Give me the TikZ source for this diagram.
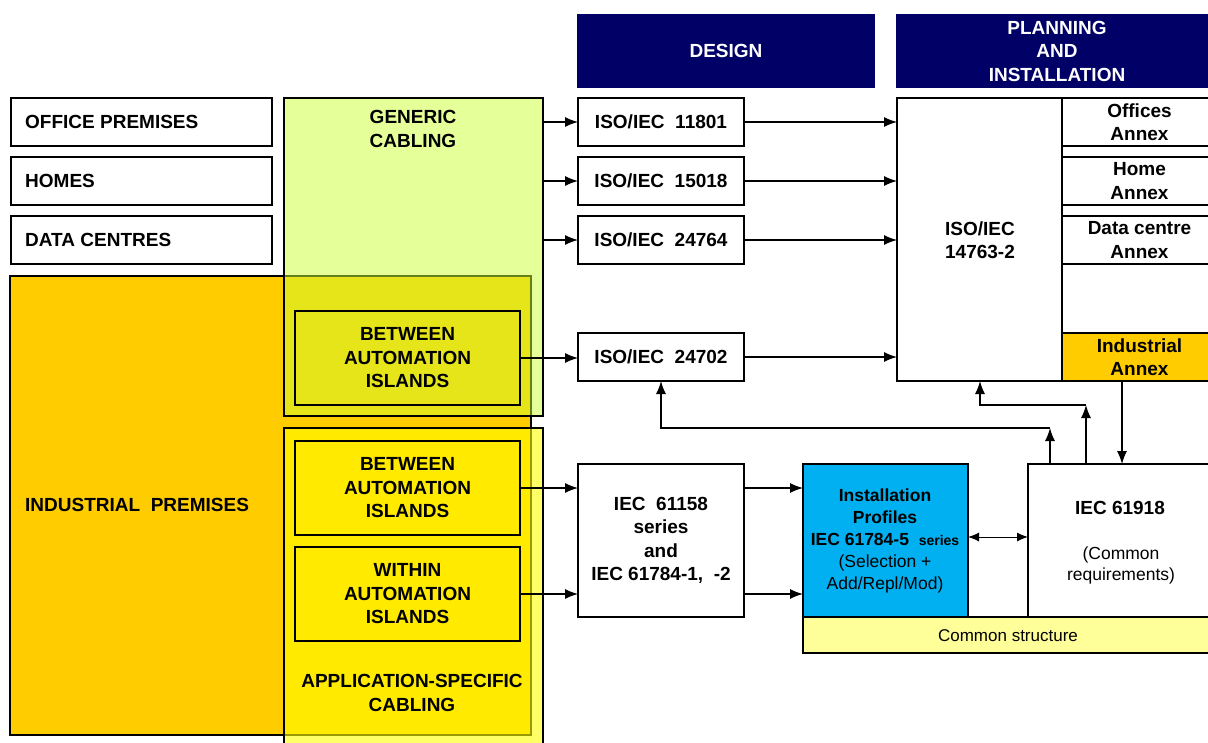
\documentclass[tikz,border=0pt]{standalone}
\usepackage{fontspec}
\setmainfont{Liberation Sans}
\usetikzlibrary{arrows.meta,calc}
\definecolor{navy}{HTML}{000066}
\definecolor{indorange}{HTML}{FFCC00}
\definecolor{gengreen}{HTML}{CCFF33}
\definecolor{appyellow}{HTML}{FFFF00}
\definecolor{cyanbox}{HTML}{00B0F0}
\definecolor{paleyellow}{HTML}{FFFF99}
\tikzset{
  box/.style={draw=black, line width=1.2pt, anchor=north west, inner sep=0pt, outer sep=0pt, align=center,
    font=\bfseries\fontsize{19}{23.5}\selectfont},
  lbl/.style={font=\bfseries\fontsize{19}{23.5}\selectfont, align=center, inner sep=0pt},
  reg/.style={font=\fontsize{17.5}{21}\selectfont, align=center, inner sep=0pt},
  arr/.style={-{Latex[length=13pt,width=10pt]}, line width=1.2pt},
  dblarr/.style={{Latex[length=11pt,width=9pt]}-{Latex[length=11pt,width=9pt]}, line width=1pt},
  header/.style={box, fill=navy, draw=navy, text=white, minimum height=72pt},
}
\begin{document}
\begin{tikzpicture}[x=1pt,y=-1pt]
\useasboundingbox (0,0) rectangle (1208,742);
% left premises
\node[box, fill=white, minimum width=261pt, minimum height=48pt] (office) at (11,98) {};
\node[lbl, anchor=west] (tOffice) at (25,122) {OFFICE PREMISES};
\node[box, fill=white, minimum width=261pt, minimum height=48pt] (homes) at (11,157) {};
\node[lbl, anchor=west] (tHomes) at (25,181) {HOMES};
\node[box, fill=white, minimum width=261pt, minimum height=48pt] (dc) at (11,216) {};
\node[lbl, anchor=west] (tDC) at (25,240) {DATA CENTRES};
\node[box, fill=indorange, minimum width=521pt, minimum height=459pt] (ind) at (10,276) {};
\node[lbl, anchor=west] (tInd) at (25,505) {INDUSTRIAL\ \ PREMISES};
% cabling overlays
\node[box, fill=gengreen, fill opacity=0.5, minimum width=259pt, minimum height=318pt] (gen) at (284,98) {};
\node[lbl] (tGen) at (413,129) {GENERIC\\CABLING};
\node[box, fill=appyellow, fill opacity=0.6, minimum width=259pt, minimum height=340pt] (app) at (284,428) {};
\node[lbl] (tApp) at (412,693) {APPLICATION-SPECIFIC\\CABLING};
\node[box, minimum width=225pt, minimum height=94pt] (betTop) at (295,311) {BETWEEN\\AUTOMATION\\ISLANDS};
\node[box, minimum width=225pt, minimum height=94pt] (betLow) at (295,441) {BETWEEN\\AUTOMATION\\ISLANDS};
\node[box, minimum width=225pt, minimum height=94pt] (within) at (295,547) {WITHIN\\AUTOMATION\\ISLANDS};
% headers
\node[header, minimum width=296pt] (design) at (578,15) {DESIGN};
\node[header, minimum width=320pt] (plan) at (897,15) {PLANNING\\AND\\INSTALLATION};
% design boxes
\node[box, fill=white, minimum width=166pt, minimum height=48pt] (iso1) at (578,98) {ISO/IEC\ \ 11801};
\node[box, fill=white, minimum width=166pt, minimum height=48pt] (iso2) at (578,157) {ISO/IEC\ \ 15018};
\node[box, fill=white, minimum width=166pt, minimum height=48pt] (iso3) at (578,216) {ISO/IEC\ \ 24764};
\node[box, fill=white, minimum width=166pt, minimum height=48pt] (iso4) at (578,333) {ISO/IEC\ \ 24702};
% planning
\node[box, fill=white, minimum width=320pt, minimum height=283pt] (big) at (897,98) {};
\draw[line width=1.2pt] (1062,98) -- (1062,381);
\node[lbl] (t14763) at (980,240) {ISO/IEC\\14763-2};
\node[box, fill=white, minimum width=155pt, minimum height=48pt] (ann1) at (1062,98) {Offices\\Annex};
\node[box, fill=white, minimum width=155pt, minimum height=48pt] (ann2) at (1062,157) {Home\\Annex};
\node[box, fill=white, minimum width=155pt, minimum height=48pt] (ann3) at (1062,216) {Data centre\\Annex};
\node[box, fill=indorange, minimum width=155pt, minimum height=48pt] (ann4) at (1062,333) {Industrial\\Annex};
% lower row
\node[box, fill=white, minimum width=166pt, minimum height=153pt] (f61158) at (578,464) {IEC\ \ 61158\\series\\and\\IEC 61784-1,\ \ -2};
\node[box, fill=cyanbox, minimum width=165pt, minimum height=153pt] (inst) at (803,464) {};
\node[align=center, inner sep=0pt, font=\bfseries\fontsize{17.5}{22}\selectfont] (tInst) at (885,541) {Installation\\Profiles\\IEC 61784-5\ \ {\fontsize{14}{22}\selectfont series}\\\mdseries (Selection +\\\mdseries Add/Repl/Mod)};
\node[box, fill=white, minimum width=190pt, minimum height=153pt] (iec61918) at (1028,464) {};
\node[lbl] (t61918) at (1120,508) {IEC 61918};
\node[reg] (tCommon) at (1121,565) {(Common\\requirements)};
\node[box, fill=paleyellow, minimum width=415pt, minimum height=36pt] (cs) at (803,617) {};
\node[reg, font=\fontsize{17}{20}\selectfont] (tCs) at (1008,636) {Common structure};
% arrows
\draw[arr] (gen.east |- iso1) -- (iso1.west);
\draw[arr] (gen.east |- iso2) -- (iso2.west);
\draw[arr] (gen.east |- iso3) -- (iso3.west);
\draw[arr] (iso1.east) -- (big.west |- iso1);
\draw[arr] (iso2.east) -- (big.west |- iso2);
\draw[arr] (iso3.east) -- (big.west |- iso3);
\draw[arr] (iso4.east) -- (big.west |- iso4);
\draw[arr] (betTop.east) -- (iso4.west |- betTop.east);
\draw[arr] (betLow.east) -- (f61158.west |- betLow.east);
\draw[arr] (within.east) -- (f61158.west |- within.east);
\draw[arr] (f61158.east |- betLow.east) -- (inst.west |- betLow.east);
\draw[arr] (f61158.east |- within.east) -- (inst.west |- within.east);
\draw[dblarr] (inst.east |- 0,537) -- (iec61918.west |- 0,537);
\coordinate (c1) at (1050,428);
\coordinate (c2) at (1086,405);
\coordinate (c3) at (1122,381);
\draw[arr] (iec61918.north -| c1) -- (c1);
\draw[arr] (c1) -| (iso4.south);
\draw[arr] (iec61918.north -| c2) -- (c2);
\draw[arr] (c2) -| (t14763 |- big.south);
\draw[arr] (c3) -- (iec61918.north -| c3);
\end{tikzpicture}
\end{document}
